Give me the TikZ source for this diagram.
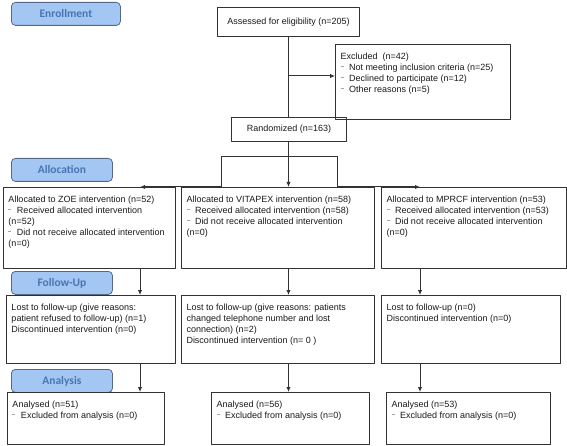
\documentclass[tikz,border=0pt]{standalone}
\usepackage{fontspec}
\setmainfont{Liberation Sans}
\newfontfamily\stagefont{Carlito}
\usetikzlibrary{arrows.meta}
\definecolor{boxline}{RGB}{50,50,50}
\definecolor{txt}{RGB}{25,25,25}
\definecolor{stagefill}{RGB}{163,198,242}
\definecolor{stageline}{RGB}{85,105,135}
\definecolor{stagetext}{RGB}{72,118,178}
\definecolor{markgray}{RGB}{165,165,165}
\newcommand{\mk}{\hspace{1.5pt}\textcolor{markgray}{\rule[4pt]{3pt}{0.6pt}}\hspace{5.5pt}}
\newcommand{\tbox}[3]{\parbox[c][\dimexpr#2pt-16pt\relax][t]{\dimexpr#1pt-10pt\relax}{#3}}
\begin{document}
\begin{tikzpicture}[x=1pt, y=-1pt, line join=round, >={Latex[length=5pt,width=4.5pt]},
  box/.style={draw=boxline, line width=1pt, anchor=north west, inner xsep=5pt, inner ysep=8pt, text=txt, font=\fontsize{9}{11.2}\selectfont},
  cbox/.style={draw=boxline, line width=1pt, anchor=north west, text=txt, font=\fontsize{9}{11.2}\selectfont},
  stage/.style={draw=stageline, fill=stagefill, rounded corners=4pt, line width=0.8pt, anchor=north west, minimum height=23pt, text=stagetext, font=\stagefont\bfseries\fontsize{11.5}{12}\selectfont},
  link/.style={draw=boxline, line width=1pt}]
\useasboundingbox (0,0) rectangle (567,446);
\node[stage, minimum width=109pt] (enrol) at (11,2) {Enrollment};
\node[stage, minimum width=101pt] (alloc) at (11,158) {Allocation};
\node[stage, minimum width=101pt] (follow) at (11,271) {Follow-Up};
\node[stage, minimum width=101pt] (analys) at (11,369) {Analysis};
\node[cbox, minimum width=142pt, minimum height=29pt] (assess) at (217,7) {Assessed for eligibility (n=205)};
\node[box] (excl) at (335,44) {\tbox{175}{75}{Excluded\ \ (n=42)\\ \mk Not meeting inclusion criteria (n=25)\\ \mk Declined to participate (n=12)\\ \mk Other reasons (n=5)}};
\node[cbox, minimum width=115pt, minimum height=24pt] (rand) at (231,117) {Randomized (n=163)};
\node[box] (alZ) at (3,187) {\tbox{172}{81}{Allocated to ZOE intervention (n=52)\\ \mk Received allocated intervention\\ (n=52)\\ \mk Did not receive allocated intervention\\ (n=0)}};
\node[box] (alV) at (181,187) {\tbox{193}{81}{Allocated to VITAPEX intervention (n=58)\\ \mk Received allocated intervention (n=58)\\ \mk Did not receive allocated intervention\\ (n=0)}};
\node[box] (alM) at (381,187) {\tbox{185}{81}{Allocated to MPRCF intervention (n=53)\\ \mk Received allocated intervention (n=53)\\ \mk Did not receive allocated intervention\\ (n=0)}};
\node[box] (fuZ) at (6,295) {\tbox{169}{68}{Lost to follow-up (give reasons:\\ patient refused to follow-up) (n=1)\\ Discontinued intervention (n=0)}};
\node[box] (fuV) at (181,295) {\tbox{193}{68}{Lost to follow-up (give reasons: patients\\ changed telephone number and lost\\ connection) (n=2)\\ Discontinued intervention (n= 0 )}};
\node[box] (fuM) at (381,295) {\tbox{179}{68}{Lost to follow-up (n=0)\\ Discontinued intervention (n=0)}};
\node[box] (anZ) at (7,392) {\tbox{157}{52}{Analysed (n=51)\\ \mk Excluded from analysis (n=0)}};
\node[box] (anV) at (211,392) {\tbox{158}{52}{Analysed (n=56)\\ \mk Excluded from analysis (n=0)}};
\node[box] (anM) at (386,392) {\tbox{164}{52}{Analysed (n=53)\\ \mk Excluded from analysis (n=0)}};
\coordinate (colZ) at (140,0);
\coordinate (colM) at (420,0);
\coordinate (exc) at (288,76);
\coordinate (splitL) at (221,157);
\coordinate (splitR) at (337,157);
\draw[link] (assess.south) -- (assess.south |- rand.north);
\draw[link,->] (exc) -- (exc -| excl.west);
\draw[link,->] (rand.south -| assess.south) -- (alV.north -| assess.south);
\draw[link] (alV.north -| splitL) -- (splitL) -- (splitR) -- (alV.north -| splitR);
\draw[link,->] (alV.north -| splitL) -- (alZ.north -| colZ);
\draw[link,->] (alV.north -| splitR) -- (alM.north -| colM);
\foreach \a/\b/\c in {alZ/fuZ/colZ, fuZ/anZ/colZ, alV/fuV/assess, fuV/anV/assess, alM/fuM/colM, fuM/anM/colM}
  \draw[link,->] (\a.south -| \c) -- (\b.north -| \c);
\end{tikzpicture}
\end{document}
